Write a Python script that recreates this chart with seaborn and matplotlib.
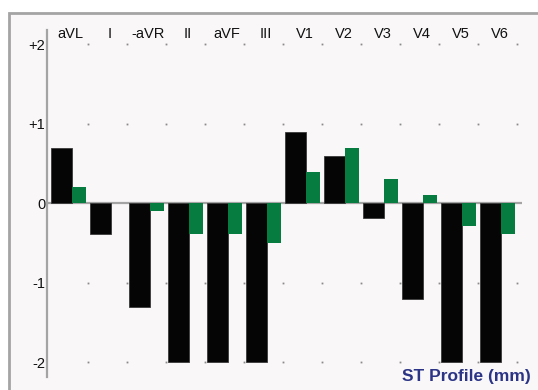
import numpy as np
import pandas as pd
import matplotlib
matplotlib.use("Agg")
import matplotlib.pyplot as plt
from matplotlib.patches import Rectangle
import seaborn as sns

# ECG leads in Cabrera order and their ST deviation (mm)
leads = ["aVL", "I", "-aVR", "II", "aVF", "III", "V1", "V2", "V3", "V4", "V5", "V6"]
st_current = [0.70, -0.38, -1.30, -2.00, -2.00, -2.00, 0.90, 0.60, -0.19, -1.20, -2.00, -2.00]
st_reference = [0.20, 0.00, -0.10, -0.38, -0.38, -0.50, 0.40, 0.70, 0.30, 0.10, -0.28, -0.38]
y_ticks = [2, 1, 0, -1, -2]
y_tick_labels = ["+2", "+1", "0", "-1", "-2"]

sns.set_style("white")
plt.rcParams["font.family"] = ["Liberation Sans", "DejaVu Sans"]

W, H = 538, 390
fig = plt.figure(figsize=(W / 100, H / 100), dpi=100)
fig.patch.set_facecolor("white")

# panel frame with light background, drawn beneath the axes
frame = Rectangle((9.3 / W, -0.05), 1.2, 1.05 - 13 / H, transform=fig.transFigure,
                  facecolor="#f9f7f8", edgecolor="#a4a4a4", linewidth=2.0)
frame.set_zorder(-10)
fig.patches.append(frame)

ax = fig.add_axes([46.7 / W, 13.3 / H, 475 / W, 346.7 / H])
ax.set_facecolor("none")

idx = np.arange(len(leads))
w_cur, w_ref = 0.54, 0.367
df_cur = pd.DataFrame({"pos": idx + 0.06 + w_cur / 2, "st": st_current})
df_ref = pd.DataFrame({"pos": idx + 0.06 + w_cur + w_ref / 2, "st": st_reference})

sns.barplot(data=df_cur, x="pos", y="st", native_scale=True, width=w_cur,
            color="#050505", saturation=1, edgecolor="#3a3a3a", linewidth=0.6, ax=ax, zorder=3)
sns.barplot(data=df_ref, x="pos", y="st", native_scale=True, width=w_ref,
            color="#077c40", saturation=1, linewidth=0, ax=ax, zorder=3)

ax.set_xlim(-0.05, 12.13)
ax.set_ylim(-2.18, 2.18)

# zero line and dotted grid markers
ax.axhline(0, color="#a4a4a4", lw=1.6, zorder=2)
gx, gy = np.meshgrid(np.arange(1, len(leads) + 1), [v for v in y_ticks if v != 0])
ax.plot(gx.ravel(), gy.ravel(), ls="none", marker="s", ms=1.3, mec="none", mfc="#8a8a8a", zorder=1)

for s in ["top", "right", "bottom"]:
    ax.spines[s].set_visible(False)
ax.spines["left"].set_color("#a4a4a4")
ax.spines["left"].set_linewidth(1.6)

ax.set_xticks([])
ax.set_xlabel("")
ax.set_ylabel("")
ax.set_yticks(y_ticks)
ax.set_yticklabels(y_tick_labels, fontsize=10.5, color="#111111")
ax.tick_params(axis="y", direction="in", length=2.5, width=1, color="#a4a4a4", pad=1)

# lead names along the top
for i, name in enumerate(leads):
    ax.text(i + 0.56, 2.18 - 3.5 / 79.5, name, ha="center", va="center",
            fontsize=10.5, color="#111111")

fig.text(530.7 / W, 1 - 377 / H, "ST Profile (mm)", ha="right", va="center",
         fontsize=12.5, fontweight="bold", color="#2b3486")

fig.savefig("out.png", dpi=100)
